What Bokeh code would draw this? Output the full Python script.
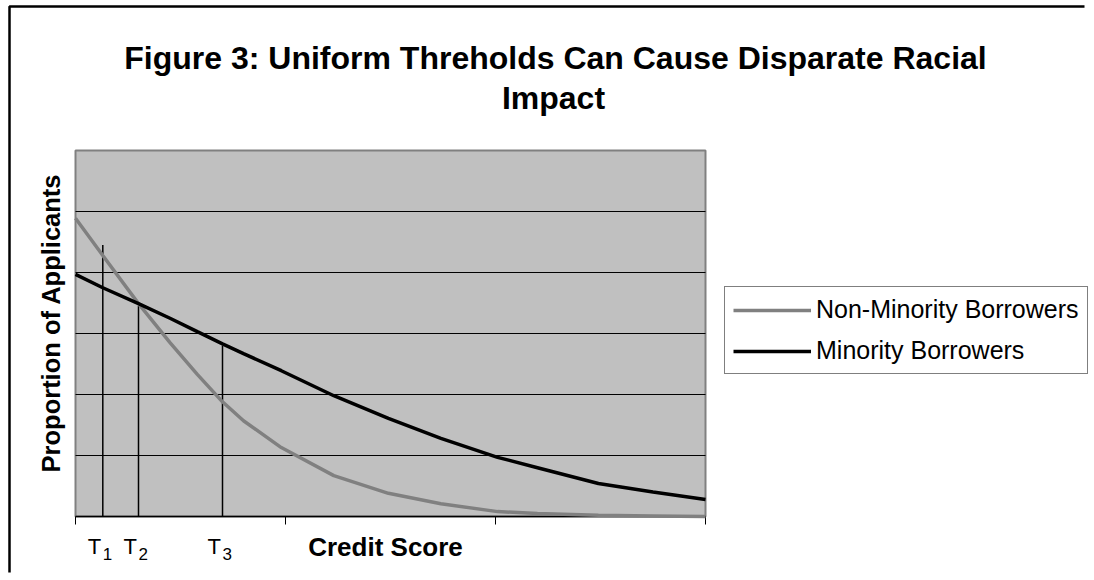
import math
from bokeh.plotting import figure
from bokeh.models import Range1d, Label, Legend, LegendItem, ColumnDataSource
from bokeh.embed import file_html
from bokeh.resources import INLINE

# ---------------- data ----------------
credit = [0, 13, 30, 45, 58, 70, 80, 98, 123, 149, 174, 201, 220, 249, 275, 300]
non_minority = [4.89, 4.28, 3.49, 2.85, 2.33, 1.88, 1.57, 1.13, 0.67, 0.38, 0.21,
                0.08, 0.05, 0.02, 0.01, 0.0]
minority = [3.97, 3.75, 3.49, 3.25, 3.03, 2.83, 2.67, 2.39, 1.98, 1.61, 1.28,
            0.97, 0.80, 0.54, 0.40, 0.28]
thresholds = [13, 30, 70]
threshold_tops = [4.45, 3.45, 2.80]
threshold_subs = ["1", "2", "3"]
series_names = ["Non-Minority Borrowers", "Minority Borrowers"]
title_lines = ["Figure 3: Uniform Threholds Can Cause Disparate Racial", "Impact"]
x_label = "Credit Score"
y_label = "Proportion of Applicants"
x_ticks = [0, 100, 200, 300]
y_grid = [1, 2, 3, 4, 5]
y_max = 6

FONT = "Liberation Sans"
GRAY = "#808080"
INK = "black"

W, H = 1088, 574
# plot area occupies canvas x 75..705, y 150..516
PX_PER_X = 630 / (x_ticks[-1] - x_ticks[0])
PX_PER_Y = 366 / y_max
X0, Y0 = 75, 516


def dx(px):
    return x_ticks[0] + (px - X0) / PX_PER_X


def dy(py):
    return (Y0 - py) / PX_PER_Y


p = figure(width=W, height=H,
           x_range=Range1d(dx(0), dx(W)), y_range=Range1d(dy(H), dy(0)),
           output_backend="svg", toolbar_location=None,
           x_axis_location=None, y_axis_location=None,
           min_border=0)
p.min_border_left = p.min_border_right = p.min_border_top = p.min_border_bottom = 0
p.background_fill_color = "white"
p.border_fill_color = None
p.outline_line_color = None
p.grid.visible = False

# outer chart border: only its top and left edges fall inside the picture
p.line(x=[dx(9), dx(9), dx(W - 4)], y=[dy(H - 2), dy(6), dy(6)],
       line_color=INK, line_width=2.5)

# plot area
p.quad(left=[x_ticks[0]], right=[x_ticks[-1]], bottom=[0], top=[y_max],
       fill_color="#C0C0C0", line_color=GRAY, line_width=2)

# horizontal gridlines
p.segment(x0=[x_ticks[0]] * len(y_grid), x1=[x_ticks[-1]] * len(y_grid),
          y0=y_grid, y1=y_grid, line_color=INK, line_width=1)

# x axis line and ticks
p.segment(x0=[x_ticks[0]], x1=[x_ticks[-1]], y0=[0], y1=[0],
          line_color=INK, line_width=1.5)
tick_len = 8 / PX_PER_Y
p.segment(x0=x_ticks, x1=x_ticks, y0=[0] * len(x_ticks), y1=[-tick_len] * len(x_ticks),
          line_color=INK, line_width=1)

# threshold lines
tsrc = ColumnDataSource(dict(x=thresholds, top=threshold_tops, base=[0] * len(thresholds)))
p.segment(x0="x", y0="base", x1="x", y1="top", source=tsrc,
          line_color=INK, line_width=1.5)

# series
src = ColumnDataSource(dict(x=credit, nm=non_minority, m=minority))
r_nm = p.line("x", "nm", source=src, line_color=GRAY, line_width=3.5)
r_m = p.line("x", "m", source=src, line_color=INK, line_width=3.5)

# threshold labels with subscripts
for t, sub in zip(thresholds, threshold_subs):
    px = X0 + (t - x_ticks[0]) * PX_PER_X
    p.add_layout(Label(x=dx(px - 15), y=dy(546), text="T", text_font=FONT,
                       text_font_size="22px", text_align="left",
                       text_baseline="alphabetic", text_color=INK))
    p.add_layout(Label(x=dx(px), y=dy(553), text=sub, text_font=FONT,
                       text_font_size="17px", text_align="left",
                       text_baseline="alphabetic", text_color=INK))

p.add_layout(Label(x=dx(385), y=dy(546), text=x_label, text_font=FONT,
                   text_font_size="26px", text_font_style="bold", text_color=INK,
                   text_align="center", text_baseline="alphabetic"))

p.add_layout(Label(x=dx(50), y=dy(322.5), text=y_label, text_font=FONT,
                   text_font_size="25.5px", text_font_style="bold", angle=math.pi / 2,
                   text_color=INK, text_align="center", text_baseline="alphabetic"))

p.add_layout(Label(x=dx(555), y=dy(57), text=title_lines[0], text_font=FONT,
                   text_font_size="32px", text_font_style="bold", text_color=INK,
                   text_align="center", text_baseline="alphabetic"))
p.add_layout(Label(x=dx(553), y=dy(97), text=title_lines[1], text_font=FONT,
                   text_font_size="32px", text_font_style="bold", text_color=INK,
                   text_align="center", text_baseline="alphabetic"))

legend = Legend(items=[LegendItem(label=series_names[0], renderers=[r_nm]),
                       LegendItem(label=series_names[1], renderers=[r_m])],
                location=(724, H - 374))
legend.border_line_color = INK
legend.border_line_width = 1
legend.background_fill_color = "white"
legend.background_fill_alpha = 1
legend.label_text_font = FONT
legend.label_text_font_size = "25px"
legend.label_text_color = INK
legend.glyph_width = 78
legend.glyph_height = 28
legend.label_height = 28
legend.spacing = 12
legend.padding = 8
legend.margin = 0
legend.label_standoff = 5
p.add_layout(legend)

open("out.html", "w").write(file_html(p, INLINE))
